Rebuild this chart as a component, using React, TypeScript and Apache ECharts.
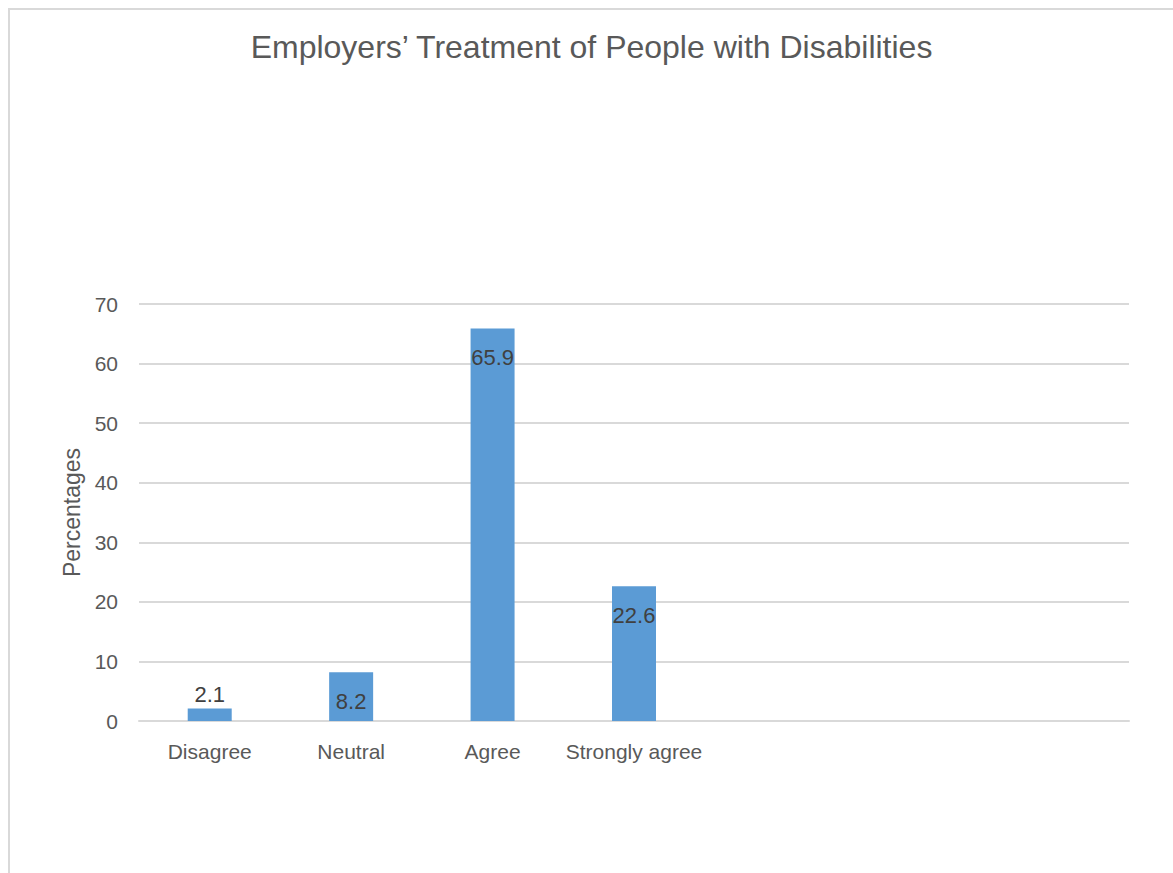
import React, { useEffect, useRef } from "react";
import * as echarts from "echarts";

const categories = ["Disagree", "Neutral", "Agree", "Strongly agree", "", "", ""];
const values = [2.1, 8.2, 65.9, 22.6];
const labelPositions = ["top", "insideTop", "insideTop", "insideTop"];
const yTicks = { min: 0, max: 70, interval: 10 };

export default function App() {
  const ref = useRef<HTMLDivElement>(null);
  useEffect(() => {
    if (!ref.current) return;
    const chart = echarts.init(ref.current, null, { renderer: "svg" });
    const font = "'Liberation Sans', Arial, sans-serif";
    chart.setOption({
      animation: false,
      backgroundColor: "#ffffff",
      title: {
        text: "Employers\u2019 Treatment of People with Disabilities",
        left: "center",
        top: 21,
        padding: 0,
        textStyle: { fontFamily: font, fontSize: 32, fontWeight: "normal", color: "#595959" },
      },
      grid: { left: 129, top: 294, width: 990, height: 417 },
      xAxis: {
        type: "category",
        data: categories,
        axisLine: { show: true, lineStyle: { color: "#d9d9d9", width: 2 } },
        axisTick: { show: false },
        axisLabel: { fontFamily: font, fontSize: 21, color: "#595959", margin: 20, interval: 0 },
      },
      yAxis: {
        type: "value",
        min: yTicks.min,
        max: yTicks.max,
        interval: yTicks.interval,
        name: "Percentages",
        nameLocation: "middle",
        nameGap: 56,
        nameTextStyle: { fontFamily: font, fontSize: 23, color: "#595959" },
        axisLine: { show: false },
        axisTick: { show: false },
        splitLine: { lineStyle: { color: "#d9d9d9", width: 2 } },
        axisLabel: { fontFamily: font, fontSize: 21, color: "#595959", margin: 21 },
      },
      series: [
        {
          type: "bar",
          barWidth: 44,
          data: values.map((v, i) => ({
            value: v,
            label: {
              position: labelPositions[i],
              distance: labelPositions[i] === "top" ? 3 : 18,
            },
          })),
          itemStyle: { color: "#5b9bd5" },
          label: {
            show: true,
            fontFamily: font,
            fontSize: 22,
            color: "#404040",
          },
        },
      ],
    });
    return () => chart.dispose();
  }, []);
  return (
    <div
      style={{
        position: "fixed",
        left: 8,
        top: 8,
        width: 1165,
        height: 865,
        borderLeft: "2px solid #d9d9d9",
        borderTop: "2px solid #d9d9d9",
        boxSizing: "border-box",
        background: "#fff",
      }}
    >
      <div ref={ref} style={{ width: 1163, height: 863 }} />
    </div>
  );
}
